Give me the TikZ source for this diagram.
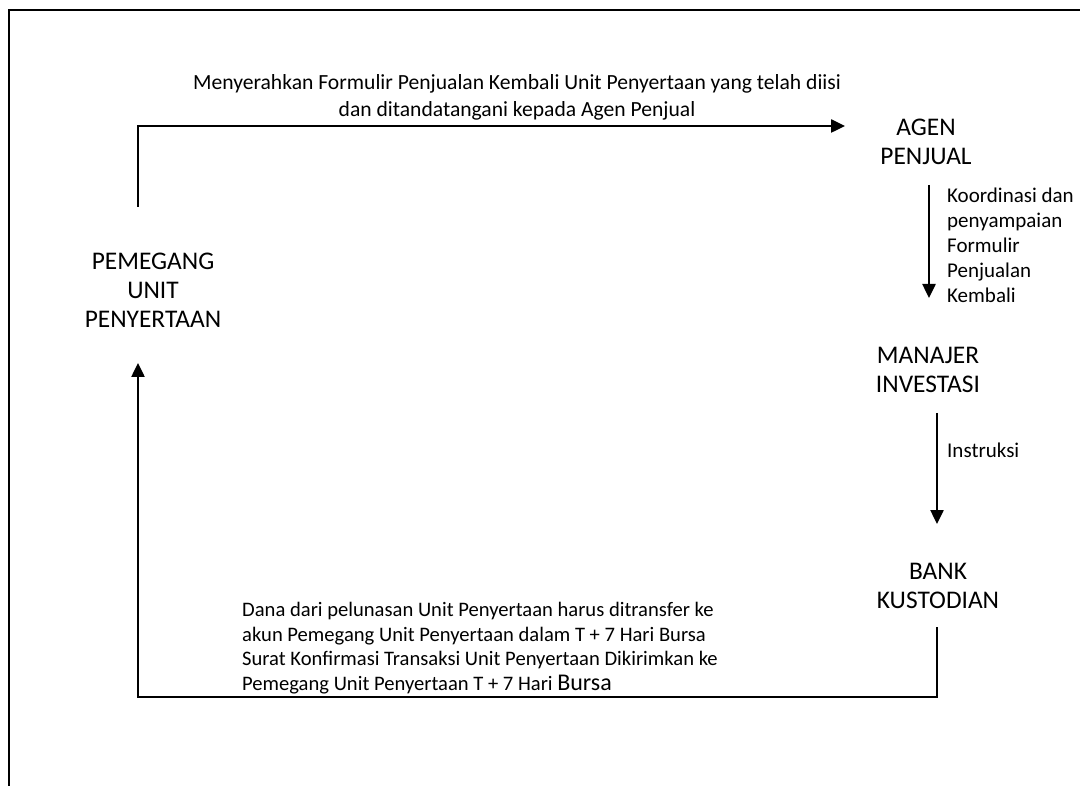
\documentclass[tikz,border=0pt]{standalone}
\usepackage{fontspec}
\setmainfont{Carlito}
\usetikzlibrary{positioning,calc,arrows.meta}
\tikzset{>={Triangle[length=14pt,width=13pt]}}
\newcommand*{\smtxt}{\fontsize{21}{25}\selectfont}
\newcommand*{\captxt}{\fontsize{25.4}{29}\selectfont}

\begin{document}
\begin{tikzpicture}[x=1pt,y=-1pt,
  party/.style={align=center,font=\captxt,inner sep=0pt},
  note/.style={align=left,font=\smtxt,inner sep=0pt},
  flow/.style={line width=2.5pt,->}]
\useasboundingbox (0,0) rectangle (1080,786);
% Frame
\draw[line width=2.5pt] (9,786) -- (9,10) -- (1080,10);

% Parties
\node[party] (pemegang) at (153,290) {PEMEGANG\\UNIT\\PENYERTAAN};
\node[party] (agen) at (926,142) {AGEN\\PENJUAL};
\node[party] (manajer) at (928,370) {MANAJER\\INVESTASI};
\node[party] (bank) at (938,586) {BANK\\KUSTODIAN};

% Holder to selling agent
\draw[flow] ($(pemegang)+(-15,-83)$) |- ($(agen)+(-81,-16)$);
\node[note,align=center,font=\fontsize{21.6}{27}\selectfont] (serah) at (517,97)
  {Menyerahkan Formulir Penjualan Kembali Unit Penyertaan yang telah diisi\\
   dan ditandatangani kepada Agen Penjual};

% Selling agent to investment manager
\draw[flow] ($(agen)+(3,43)$) -- ($(manajer)+(1,-72)$);
\node[note,anchor=west] (koord) at (947,245)
  {Koordinasi dan\\penyampaian\\Formulir\\Penjualan\\Kembali};

% Investment manager to custodian
\draw[flow] ($(manajer)+(9,43)$) -- ($(bank)+(-1,-62)$);
\node[note,anchor=west] (instr) at (947,450) {Instruksi};

% Custodian back to holder
\draw[flow] ($(bank)+(-1,41)$) |- ($(pemegang)+(-15,407)$)
  -- ($(pemegang)+(-15,73)$);
\node[note,anchor=west,font=\fontsize{20.6}{24.5}\selectfont] (dana) at (242,648)
  {Dana dari pelunasan Unit Penyertaan harus ditransfer ke\\
   akun Pemegang Unit Penyertaan dalam T + 7 Hari Bursa\\
   Surat Konfirmasi Transaksi Unit Penyertaan Dikirimkan ke\\
   Pemegang Unit Penyertaan T + 7 Hari {\fontsize{24}{24.5}\selectfont Bursa}};
\end{tikzpicture}
\end{document}
